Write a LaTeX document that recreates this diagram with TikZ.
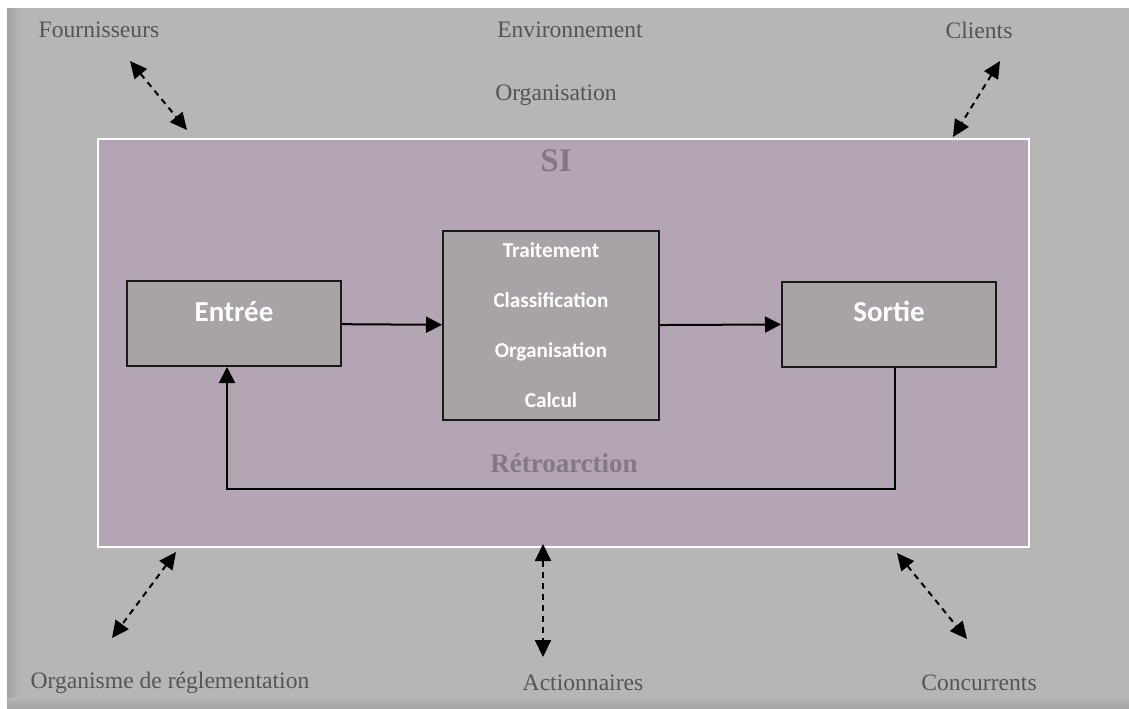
\documentclass[tikz,border=0pt]{standalone}
\usepackage{fontspec}
\setmainfont{Liberation Serif}
\newfontfamily\boxfont{Carlito}
\usetikzlibrary{arrows.meta,positioning}
\definecolor{outergray}{HTML}{B6B6B6}
\definecolor{shadowgray}{HTML}{A2A2A2}
\definecolor{sipurple}{HTML}{B3A5B3}
\definecolor{boxgray}{HTML}{A9A3A7}
\definecolor{labelgray}{HTML}{555555}
\definecolor{sitext}{HTML}{857885}
\tikzset{
  boxbase/.style={draw=black!90, line width=1pt, fill=boxgray, text=white, inner sep=0pt},
  iobox/.style={boxbase, font=\boxfont\bfseries\fontsize{14.5}{17}\selectfont, minimum width=107pt, text height=20pt, text depth=22.5pt},
  outer/.style={text=labelgray, font=\fontsize{11.8}{14}\selectfont},
  sititle/.style={text=sitext, font=\bfseries\fontsize{16.5}{19}\selectfont},
  flow/.style={line width=1pt, -{Triangle[length=8pt,width=8pt]}},
  link/.style={line width=1pt, dash pattern=on 3pt off 2.5pt, {Triangle[length=8.5pt,width=8pt]}-{Triangle[length=8.5pt,width=8pt]}},
}
\begin{document}
\begin{tikzpicture}[x=0.5pt, y=-0.5pt]
	\useasboundingbox (0,0) rectangle (1129,708);
	% Background
	\fill[white] (0,0) rectangle (1129,708);
	\fill[outergray] (7,8) rectangle (1129,708);
	\shade[left color=shadowgray, right color=outergray] (7,8) rectangle (19,708);
	\shade[top color=outergray, bottom color=shadowgray] (7,698) rectangle (1129,708);

	% Environnement
	\node[outer] (fournisseurs) at (99,30) {Fournisseurs};
	\node[outer] (environnement) at (570,30) {Environnement};
	\node[outer] (clients) at (979,30) {Clients};
	\node[outer] (organisation) at (556,95) {Organisation};
	\node[outer] (organisme) at (170,683) {Organisme de réglementation};
	\node[outer] (actionnaires) at (583,683) {Actionnaires};
	\node[outer] (concurrents) at (979,683) {Concurrents};

	% SI
	\draw[white, line width=1pt, fill=sipurple] (98,139) rectangle (1029,547);
	\node[sititle] (si) at (556,161) {SI};
	\node[sititle, font=\bfseries\fontsize{13.5}{16}\selectfont] (retro) at (564,463) {Rétroarction};

	\node[iobox] (entree) at (234,323.5) {Entrée};
	\node[boxbase, minimum width=108pt, minimum height=94.5pt, align=center,
		font=\boxfont\bfseries\fontsize{10.6}{25}\selectfont] (traitement) at (551,325.5)
		{Traitement\\Classification\\Organisation\\Calcul};
	\node[iobox] (sortie) at (889,324) {Sortie};

	\draw[flow] (entree) -- (traitement);
	\draw[flow] (traitement) -- (sortie);
	\coordinate (fb) at (560,489);
	\draw[flow] ([xshift=3pt]sortie.south) |- (fb) -| ([xshift=-3.5pt]entree.south);

	% Liens avec l'environnement
	\coordinate (f1) at (130,61);  \coordinate (f2) at (187,130);
	\coordinate (c1) at (1000,61); \coordinate (c2) at (953,137);
	\coordinate (o1) at (176,552); \coordinate (o2) at (112,638);
	\coordinate (a1) at (543,544); \coordinate (a2) at (543,657);
	\coordinate (k1) at (897,553); \coordinate (k2) at (967,639);
	\draw[link] (f1) -- (f2);
	\draw[link] (c1) -- (c2);
	\draw[link] (o1) -- (o2);
	\draw[link] (a1) -- (a2);
	\draw[link] (k1) -- (k2);
\end{tikzpicture}
\end{document}
